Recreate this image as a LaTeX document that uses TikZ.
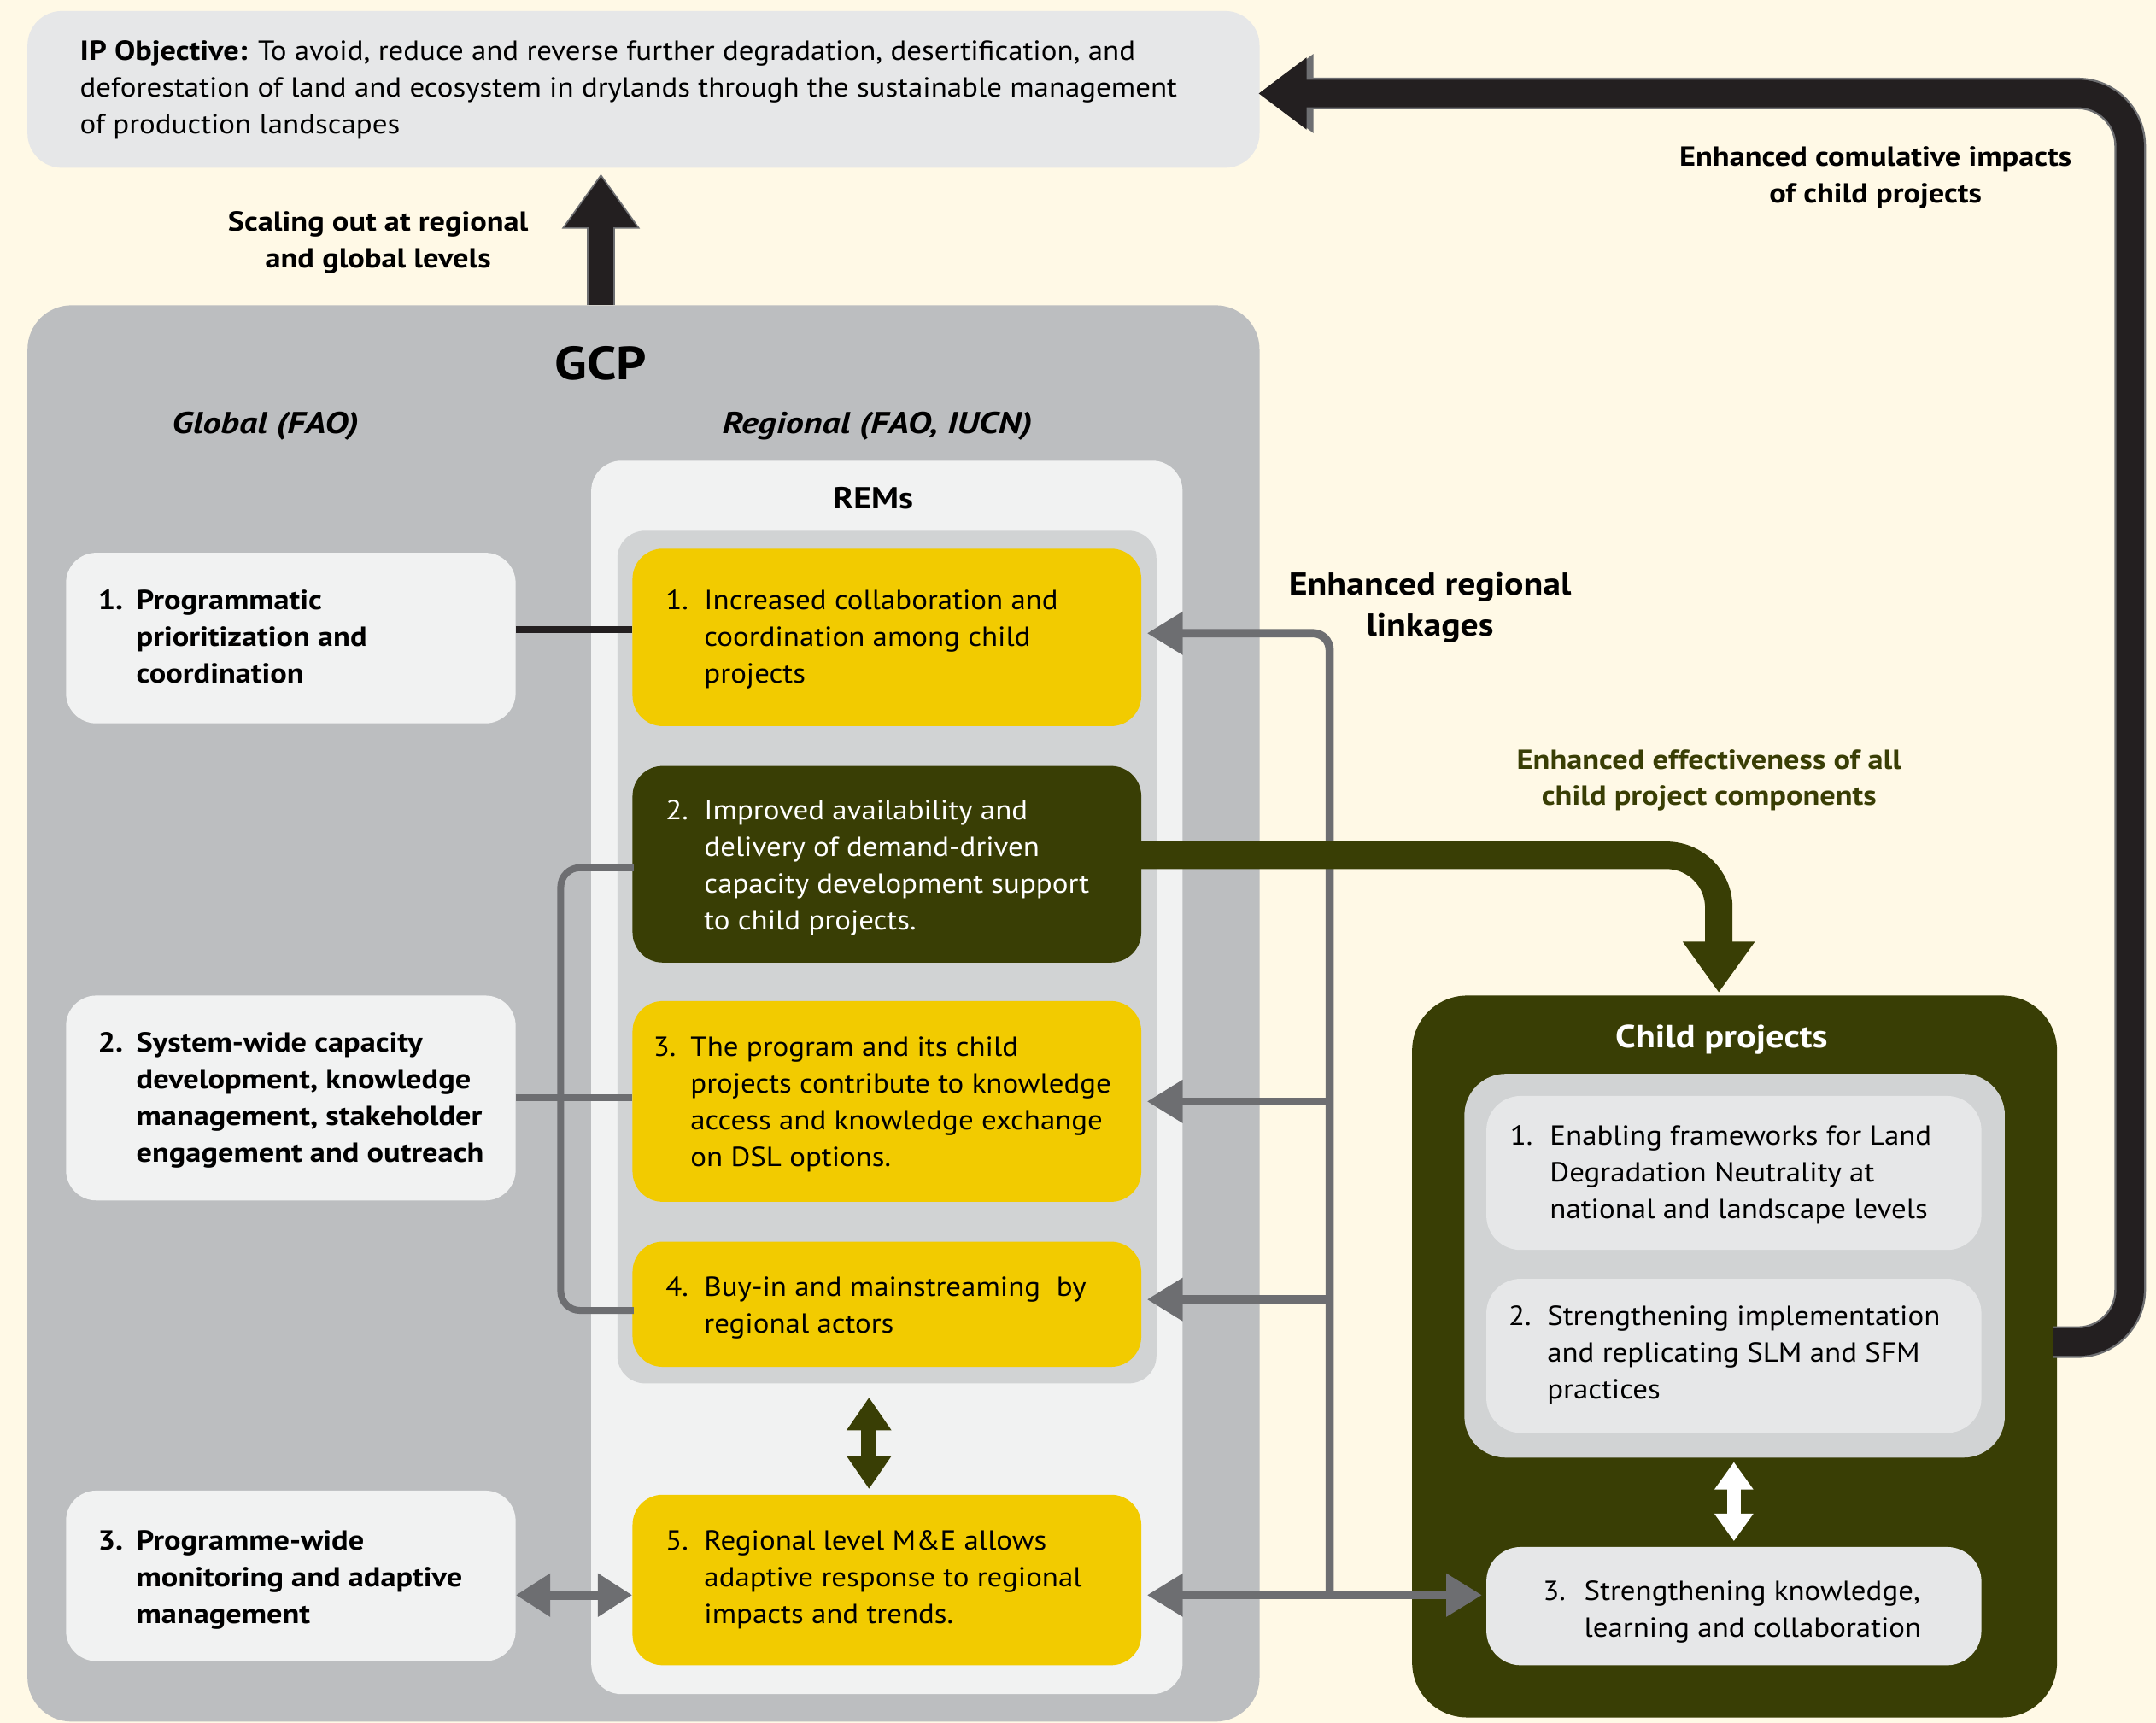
\documentclass[tikz,border=0pt]{standalone}
\usepackage{fontspec}
\setmainfont{PT Sans}[
  UprightFeatures={FakeStretch=1.085},
  ItalicFeatures={FakeStretch=1.085},
  BoldFeatures={FakeStretch=1.13},
  BoldItalicFeatures={FakeStretch=1.19}]
\usetikzlibrary{arrows.meta}
\definecolor{bgc}{HTML}{FFF9E6}
\definecolor{ipgray}{HTML}{E6E7E8}
\definecolor{gcpgray}{HTML}{BCBEC0}
\definecolor{lightp}{HTML}{F1F2F2}
\definecolor{midp}{HTML}{D1D3D4}
\definecolor{yel}{HTML}{F2CB00}
\definecolor{oliv}{HTML}{393E05}
\definecolor{arrgray}{HTML}{6D6E71}
\definecolor{blk}{HTML}{231F20}
\newcommand\bodyfont{\fontsize{20}{26.7}\selectfont}
\newcommand\lns[1]{\begin{tabular}[t]{@{}l@{}}#1\end{tabular}}
\tikzset{
  panel/.style={inner sep=0pt, draw=none},
  txt/.style={anchor=base west, inner sep=0pt, font=\bodyfont},
  btxt/.style={anchor=base west, inner sep=0pt, font=\bodyfont\bfseries},
  lbl/.style={inner sep=0pt, align=center, font=\fontsize{20}{26.5}\selectfont\bfseries},
  gline/.style={draw=arrgray, line width=6pt},
  gtip/.style={-{Triangle[length=26pt,width=30pt]}},
}
\begin{document}
\begin{tikzpicture}[x=1pt,y=-1pt]
\useasboundingbox (0,0) rectangle (1568,1253);
\fill[bgc] (0,0) rectangle (1568,1253);

% main panels
\node[panel, fill=ipgray, rounded corners=25pt, minimum width=896pt, minimum height=114pt] (ip) at (468,65) {};
\node[panel, fill=gcpgray, rounded corners=32pt, minimum width=896pt, minimum height=1030pt] (gcp) at (468,737) {};
\node[panel, fill=lightp, rounded corners=22pt, minimum width=430pt, minimum height=897pt] (rems) at (645,783.5) {};
\node[panel, fill=midp, rounded corners=20pt, minimum width=392pt, minimum height=620pt] (remin) at (645,696) {};

% REM boxes
\node[panel, fill=yel, rounded corners=22pt, minimum width=370pt, minimum height=129pt] (y1) at (645,463.5) {};
\node[panel, fill=oliv, rounded corners=22pt, minimum width=370pt, minimum height=143pt] (d2) at (645,628.5) {};
\node[panel, fill=yel, rounded corners=22pt, minimum width=370pt, minimum height=146pt] (y3) at (645,801) {};
\node[panel, fill=yel, rounded corners=22pt, minimum width=370pt, minimum height=91pt] (y4) at (645,948.5) {};
\node[panel, fill=yel, rounded corners=22pt, minimum width=370pt, minimum height=124pt] (y5) at (645,1149) {};

% Global boxes
\node[panel, fill=lightp, rounded corners=22pt, minimum width=327pt, minimum height=124pt] (g1) at (211.5,464) {};
\node[panel, fill=lightp, rounded corners=22pt, minimum width=327pt, minimum height=149pt] (g2) at (211.5,798.5) {};
\node[panel, fill=lightp, rounded corners=22pt, minimum width=327pt, minimum height=124pt] (g3) at (211.5,1146) {};

% Child projects
\node[panel, fill=oliv, rounded corners=40pt, minimum width=469pt, minimum height=525pt] (cp) at (1261.5,986.5) {};
\node[panel, fill=midp, rounded corners=30pt, minimum width=393pt, minimum height=279pt] (cpin) at (1261.5,920.5) {};
\node[panel, fill=ipgray, rounded corners=25pt, minimum width=360pt, minimum height=112pt] (c1) at (1261,853) {};
\node[panel, fill=ipgray, rounded corners=25pt, minimum width=360pt, minimum height=112pt] (c2) at (1261,986) {};
\node[panel, fill=ipgray, rounded corners=25pt, minimum width=360pt, minimum height=86pt] (c3) at (1261,1168) {};

% headings
\node[inner sep=0pt, font=\fontsize{34}{40}\selectfont\bfseries] (gcpT) at (437,264) {GCP};
\node[inner sep=0pt, font=\fontsize{22}{26}\selectfont\bfseries\itshape] (globT) at (193,310) {Global (FAO)};
\node[inner sep=0pt, font=\fontsize{22}{26}\selectfont\bfseries\itshape] (regT) at (638,310) {Regional (FAO, IUCN)};
\node[inner sep=0pt, font=\fontsize{22}{26}\selectfont\bfseries] (remsT) at (635,362) {REMs};
\node[inner sep=0pt, text=white, font=\fontsize{23.3}{28}\selectfont\bfseries] (cpT) at (1252,756) {Child projects};

% IP objective text
\node[txt] (ipT) at (58,44) {\lns{\textbf{IP Objective:} To avoid, reduce and reverse further degradation, desertification, and\\deforestation of land and ecosystem in drylands through the sustainable management\\of production landscapes}};

% Global texts
\node[btxt] (g1n) at (71,443) {1.};
\node[btxt] (g1t) at (99,443) {\lns{Programmatic\\prioritization and\\coordination}};
\node[btxt] (g2n) at (71,765) {2.};
\node[btxt] (g2t) at (99,765) {\lns{System-wide capacity\\development, knowledge\\management, stakeholder\\engagement and outreach}};
\node[btxt] (g3n) at (71,1127) {3.};
\node[btxt] (g3t) at (99,1127) {\lns{Programme-wide\\monitoring and adaptive\\management}};

% REM texts
\node[txt] (y1n) at (484,443) {1.};
\node[txt] (y1t) at (512,443) {\lns{Increased collaboration and\\coordination among child\\projects}};
\node[txt, text=white] (d2n) at (484,596) {2.};
\node[txt, text=white] (d2t) at (512,596) {\lns{Improved availability and\\delivery of demand-driven\\capacity development support\\to child projects.}};
\node[txt] (y3n) at (475,768) {3.};
\node[txt] (y3t) at (502,768) {\lns{The program and its child\\projects contribute to knowledge\\access and knowledge exchange\\on DSL options.}};
\node[txt] (y4n) at (484,943) {4.};
\node[txt] (y4t) at (512,943) {\lns{Buy-in and mainstreaming\ \ by\\regional actors}};
\node[txt] (y5n) at (484,1127) {5.};
\node[txt] (y5t) at (512,1127) {\lns{Regional level M\&E allows\\adaptive response to regional\\impacts and trends.}};

% Child texts
\node[txt] (c1n) at (1098,833) {1.};
\node[txt] (c1t) at (1127,833) {\lns{Enabling frameworks for Land\\Degradation Neutrality at\\national and landscape levels}};
\node[txt] (c2n) at (1097,964) {2.};
\node[txt] (c2t) at (1125,964) {\lns{Strengthening implementation\\and replicating SLM and SFM\\practices}};
\node[txt] (c3n) at (1122,1164) {3.};
\node[txt] (c3t) at (1152,1164) {\lns{Strengthening knowledge,\\learning and collaboration}};

% labels
\node[lbl] (lscale) at (275,176.5) {Scaling out at regional\\and global levels};
\node[lbl] (lcum) at (1364,129) {Enhanced comulative impacts\\of child projects};
\node[lbl, font=\fontsize{23}{30}\selectfont\bfseries] (lreg) at (1040,442) {Enhanced regional\\linkages};
\node[lbl, text=oliv] (leff) at (1243,567.5) {Enhanced effectiveness of all\\child project components};

% connectors on the left
\coordinate (l1) at ([yshift=6pt]g1.east);
\draw[blk, line width=5pt] (l1) -- (l1 -| y1.west);
\draw[gline, line width=5pt] (g2.east) -- (g2.east -| y3.west);
\draw[gline, line width=5pt, rounded corners=14pt] ([yshift=-2.5pt,xshift=1pt]d2.west) -- ++(-53,0) |- ([yshift=-4.5pt,xshift=1pt]y4.west);
\draw[gline, line width=7pt, {Triangle[length=25pt,width=30pt]}-{Triangle[length=25pt,width=30pt]}] ([yshift=-14pt]g3.east) -- ([yshift=-11pt]y5.west);

% vertical double arrows
\draw[oliv, line width=11pt, {Triangle[length=24pt,width=31pt]}-{Triangle[length=24pt,width=31pt]}] ([xshift=-13pt,yshift=-22pt]y4.south) -- ([xshift=-13pt,yshift=4pt]y5.north);
\draw[white, line width=10pt, {Triangle[length=20pt,width=27pt]}-{Triangle[length=20pt,width=27pt]}] ([yshift=-21pt]c2.south) -- ([yshift=4pt]c3.north);

% regional linkage bus
\coordinate (busx) at (967,0);
\coordinate (a1) at ([yshift=3pt]y1.east);
\coordinate (a4) at ([yshift=3.5pt]y4.east);
\coordinate (a5) at ([yshift=-11pt]y5.east);
\draw[gline, gtip, rounded corners=12pt] (a5 -| busx) -- (a1 -| busx) -- ([xshift=4pt]a1);
\draw[gline, gtip] (y3.east -| busx) -- ([xshift=4pt]y3.east);
\draw[gline, gtip] (a4 -| busx) -- ([xshift=4pt]a4);
\draw[gline, {Triangle[length=26pt,width=30pt]}-{Triangle[length=26pt,width=30pt]}] ([xshift=4pt]a5) -- ([xshift=-3pt,yshift=8pt]c3.west);

% big olive arrow
\coordinate (o1) at ([yshift=6.5pt,xshift=-6pt]d2.east);
\coordinate (o2) at ([xshift=-11.5pt,yshift=2pt]cp.north);
\draw[oliv, line width=20pt, rounded corners=38pt, -{Triangle[length=37pt,width=50pt]}] (o1) -| (o2);

% big black arrow
\coordinate (b1) at ([yshift=10.5pt,xshift=-3pt]cp.east);
\coordinate (b2) at ([yshift=-3pt,xshift=1pt]ip.east);
\draw[arrgray, line width=23pt, rounded corners=38pt, -{Triangle[length=38pt,width=55pt]}] (b1) -- ++(56,0) |- (b2);
\draw[blk, line width=20pt, rounded corners=38pt, -{Triangle[length=35pt,width=50pt]}] (b1) -- ++(56,0) |- ([xshift=-2pt]b2);

% up arrow
\draw[arrgray, line width=21pt, -{Triangle[length=40pt,width=54pt]}] ([xshift=-31pt]gcp.north) -- ([xshift=-31pt,yshift=-4pt]ip.south);
\draw[blk, line width=18pt, -{Triangle[length=37pt,width=50pt]}] ([xshift=-31pt]gcp.north) -- ([xshift=-31pt,yshift=-6pt]ip.south);
\end{tikzpicture}
\end{document}
